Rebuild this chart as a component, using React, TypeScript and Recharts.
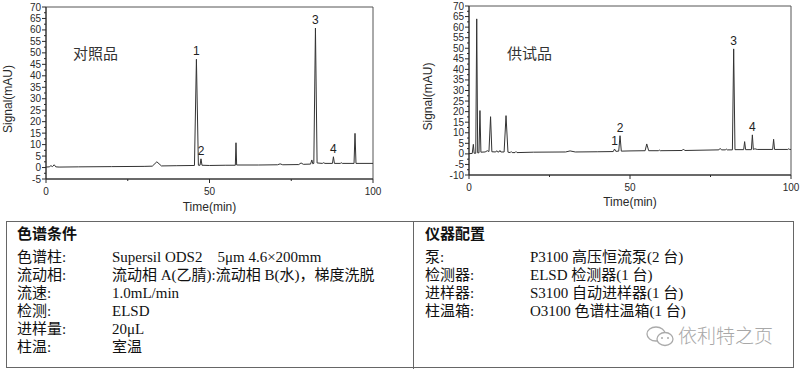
import React from 'react';
import { LineChart, Line, XAxis, YAxis, ReferenceArea, ReferenceDot } from 'recharts';

// ---- 对照品 (reference standard) chromatogram ----
const refTime = [0, 1.0, 1.5, 2.0, 2.5, 3.0, 4.0, 10, 20, 30, 32.5, 33.9, 35.3, 40, 45.4, 46.0, 46.6, 47.1, 47.4, 47.7, 50, 55, 57.9, 58.1, 58.3, 65, 70.8, 71.6, 72.4, 77.3, 78.0, 78.7, 80.9, 81.3, 81.6, 81.9, 82.4, 82.9, 84.5, 84.9, 85.3, 87.6, 87.9, 88.2, 90.0, 90.3, 90.6, 94.2, 94.5, 94.8, 100];
const refSignal = [0.2, 0.3, 0.8, 0.4, 1.2, 0.3, 0.2, 0.3, 0.4, 0.5, 0.6, 2.5, 0.7, 0.8, 0.9, 47.2, 1.0, 1.0, 3.8, 1.0, 0.9, 1.0, 1.0, 10.8, 1.1, 1.1, 1.2, 1.6, 1.2, 1.3, 2.0, 1.4, 1.5, 3.3, 1.6, 1.8, 60.8, 2.0, 1.8, 2.1, 1.8, 1.8, 4.7, 1.8, 1.8, 2.1, 1.8, 1.8, 14.9, 1.8, 1.8];
const refPeakNames = ['1', '2', '3', '4'];
const refPeakTimes = [46.0, 47.4, 82.4, 87.9];
const refPeakTops = [47.2, 3.8, 60.8, 4.7];

// ---- 供试品 (sample) chromatogram ----
const sampleTime = [0, 1.0, 1.35, 1.6, 2.1, 2.4, 2.7, 3.1, 3.4, 3.7, 5.0, 5.7, 6.2, 6.7, 7.1, 8.3, 8.6, 8.9, 9.3, 9.6, 9.9, 10.9, 11.5, 12.1, 12.8, 13.1, 13.4, 14.3, 14.6, 14.9, 20, 30, 31.4, 33, 40, 44.8, 45.2, 45.6, 46.5, 46.9, 47.3, 50, 54.7, 55.2, 55.8, 58.8, 59.1, 59.4, 66.2, 66.6, 67.0, 77.6, 78.0, 78.4, 79.6, 79.9, 80.2, 81.8, 82.2, 82.6, 85.3, 85.6, 85.9, 87.7, 88.0, 88.3, 88.8, 89.5, 94.3, 94.6, 94.9, 99.0, 99.3, 99.6, 100];
const sampleSignal = [0.1, 0.2, 4.5, 0.3, 0.3, 63.9, 0.5, 0.5, 20.5, 0.8, 0.9, 1.5, 1.1, 17.6, 1.0, 0.9, 1.5, 0.9, 0.9, 1.6, 0.9, 0.9, 18.1, 0.8, 0.6, 1.1, 0.6, 0.6, 1.1, 0.6, 0.8, 0.9, 1.4, 0.9, 1.0, 1.1, 2.3, 1.2, 1.3, 8.6, 1.3, 1.4, 1.5, 4.7, 1.5, 1.5, 1.8, 1.5, 1.6, 2.3, 1.6, 1.9, 2.6, 1.9, 1.9, 2.3, 1.9, 1.9, 49.7, 2.0, 2.0, 5.8, 2.0, 2.0, 9.0, 2.1, 2.4, 2.1, 2.1, 6.9, 2.1, 2.1, 2.4, 2.1, 2.1];
const samplePeakNames = ['1', '2', '3', '4'];
const samplePeakTimes = [45.2, 46.9, 82.2, 88.0];
const samplePeakTops = [2.3, 8.6, 49.7, 9.0];

// ---- axes ----
const xTicks = [0, 25, 50, 75, 100];
const xTickLabels = ['0', '', '50', '', '100'];
const refYTicks = [-5, -2.5, 0, 2.5, 5, 7.5, 10, 12.5, 15, 17.5, 20, 22.5, 25, 27.5, 30, 32.5, 35, 37.5, 40, 42.5, 45, 47.5, 50, 52.5, 55, 57.5, 60, 62.5, 65, 67.5, 70];
const sampleYTicks = [-10, -7.5, -5, -2.5, 0, 2.5, 5, 7.5, 10, 12.5, 15, 17.5, 20, 22.5, 25, 27.5, 30, 32.5, 35, 37.5, 40, 42.5, 45, 47.5, 50, 52.5, 55, 57.5, 60, 62.5, 65, 67.5, 70];

// ---- table ----
const condTitle = '色谱条件';
const condLabels = ['色谱柱:', '流动相:', '流速:', '检测:', '进样量:', '柱温:'];
const condValues = ['Supersil ODS2\u00a0\u00a0\u00a0\u00a05μm 4.6×200mm', '流动相 A(乙腈):流动相 B(水)，梯度洗脱', '1.0mL/min', 'ELSD', '20μL', '室温'];
const instTitle = '仪器配置';
const instLabels = ['泵:', '检测器:', '进样器:', '柱温箱:'];
const instValues = ['P3100 高压恒流泵(2 台)', 'ELSD 检测器(1 台)', 'S3100 自动进样器(1 台)', 'O3100 色谱柱温箱(1 台)'];

const SANS = '"Liberation Sans", Arial, "Noto Sans CJK SC", sans-serif';
const SERIF = '"Liberation Serif", "Times New Roman", "Noto Sans CJK SC", serif';
const INK = '#2a2a2a';

const zip = (ts: number[], vs: number[]) => ts.map((t, i) => ({ t, v: vs[i] }));
const refData = zip(refTime, refSignal);
const sampleData = zip(sampleTime, sampleSignal);

const YTick = (props: any) => {
  const { x, y, payload } = props;
  const v = payload.value as number;
  const major = Math.abs(v % 5) < 1e-9;
  return (
    <g>
      <line x1={x - (major ? 4 : 2)} x2={x} y1={y} y2={y} stroke={INK} strokeWidth={1} />
      {major && (
        <text x={x - 5} y={y + 3.5} textAnchor="end" fontSize={10} fill={INK} fontFamily={SANS}>
          {String(v)}
        </text>
      )}
    </g>
  );
};

const makeXTick = (dy: number) => (props: any) => {
  const { x, y, index } = props;
  const label = xTickLabels[index] ?? '';
  const major = label !== '';
  return (
    <g>
      <line x1={x} x2={x} y1={y} y2={y + (major ? 4 : 2)} stroke={INK} strokeWidth={1} />
      {major && (
        <text x={x} y={y + dy} textAnchor="middle" fontSize={10} fill={INK} fontFamily={SANS}>
          {label}
        </text>
      )}
    </g>
  );
};

const makeYTitle = (back: number, down: number) => (props: any) => {
  const vb = props.viewBox || {};
  const cx = vb.x + vb.width - back;
  const cy = vb.y + vb.height / 2 + down;
  return (
    <text x={cx} y={cy} transform={`rotate(-90 ${cx} ${cy})`} textAnchor="middle" dominantBaseline="central" fontSize={12} fill={INK} fontFamily={SANS}>
      Signal(mAU)
    </text>
  );
};

const makeXTitle = (dy: number) => (props: any) => {
  const vb = props.viewBox || {};
  const cx = vb.x + vb.width / 2;
  return (
    <text x={cx} y={vb.y + dy} textAnchor="middle" dominantBaseline="central" fontSize={12} fill={INK} fontFamily={SANS}>
      Time(min)
    </text>
  );
};

type ChromProps = {
  data: { t: number; v: number }[];
  width: number;
  height: number;
  margin: { top: number; right: number; bottom: number; left: number };
  yAxisWidth: number;
  xAxisHeight: number;
  yMin: number;
  yTicks: number[];
  names: string[];
  times: number[];
  tops: number[];
  xLabelDy: number;
  xTitleDy: number;
  yTitleBack: number;
};

const Chromatogram = (p: ChromProps) => (
  <LineChart width={p.width} height={p.height} data={p.data} margin={p.margin}>
    <XAxis
      dataKey="t"
      type="number"
      domain={[0, 100]}
      ticks={xTicks}
      interval={0}
      tickSize={0}
      tickMargin={0}
      tickLine={false}
      height={p.xAxisHeight}
      axisLine={{ stroke: INK }}
      tick={makeXTick(p.xLabelDy)}
      label={makeXTitle(p.xTitleDy)}
    />
    <YAxis
      dataKey="v"
      type="number"
      domain={[p.yMin, 70]}
      ticks={p.yTicks}
      interval={0}
      tickSize={0}
      tickMargin={0}
      tickLine={false}
      width={p.yAxisWidth}
      axisLine={{ stroke: INK }}
      tick={YTick}
      allowDataOverflow
      label={makeYTitle(p.yTitleBack, 6)}
    />
    <ReferenceArea x1={0} x2={100} y1={p.yMin} y2={70} fill="none" stroke="#555" strokeWidth={1} ifOverflow="visible" />
    <Line type="linear" dataKey="v" stroke="#333" strokeWidth={1} dot={false} isAnimationActive={false} />
    {p.names.map((n, i) => (
      <ReferenceDot
        key={n}
        x={p.times[i]}
        y={p.tops[i]}
        r={0}
        fill="none"
        stroke="none"
        ifOverflow="visible"
        label={{ value: n, position: 'top', offset: 4, fontSize: 12, fill: '#222', fontFamily: SANS }}
      />
    ))}
  </LineChart>
);

const rowTop = (center: number) => center - 9;

export default function App() {
  const condRows = [257, 275, 293, 311, 329, 347];
  return (
    <div style={{ position: 'absolute', left: 0, top: 0, width: 800, height: 373, background: '#fff', overflow: 'hidden', fontFamily: SANS }}>
      <div style={{ position: 'absolute', left: 0, top: 0 }}>
        <Chromatogram
          data={refData}
          width={400}
          height={219}
          margin={{ top: 7, right: 27, bottom: 7, left: 0 }}
          yAxisWidth={46}
          xAxisHeight={33}
          yMin={-5}
          yTicks={refYTicks}
          names={refPeakNames}
          times={refPeakTimes}
          tops={refPeakTops}
          xLabelDy={16}
          xTitleDy={28}
          yTitleBack={38}
        />
      </div>
      <div style={{ position: 'absolute', left: 400, top: 0 }}>
        <Chromatogram
          data={sampleData}
          width={400}
          height={213}
          margin={{ top: 6, right: 9, bottom: 7, left: 0 }}
          yAxisWidth={69}
          xAxisHeight={31}
          yMin={-10}
          yTicks={sampleYTicks}
          names={samplePeakNames}
          times={samplePeakTimes}
          tops={samplePeakTops}
          xLabelDy={15.5}
          xTitleDy={27}
          yTitleBack={41}
        />
      </div>
      <div style={{ position: 'absolute', left: 73, top: 43, fontSize: 15, color: '#333', fontFamily: '"Noto Sans CJK SC", sans-serif', lineHeight: '20px' }}>对照品</div>
      <div style={{ position: 'absolute', left: 507, top: 43, fontSize: 15, color: '#333', fontFamily: '"Noto Sans CJK SC", sans-serif', lineHeight: '20px' }}>供试品</div>

      {/* table */}
      <div style={{ position: 'absolute', left: 6, top: 221, width: 786, height: 145, border: '1.5px solid #666' }} />
      <div style={{ position: 'absolute', left: 413, top: 221, width: 0, height: 148, borderLeft: '1.5px solid #666' }} />
      <div style={{ position: 'absolute', left: 17, top: rowTop(234), fontSize: 15, lineHeight: '18px', fontWeight: 'bold', color: '#111', fontFamily: SERIF }}>{condTitle}</div>
      {condLabels.map((l, i) => (
        <React.Fragment key={l}>
          <div style={{ position: 'absolute', left: 17, top: rowTop(condRows[i]), fontSize: 15, lineHeight: '18px', color: '#111', fontFamily: SERIF, whiteSpace: 'nowrap' }}>{l}</div>
          <div style={{ position: 'absolute', left: 112, top: rowTop(condRows[i]), fontSize: 15, lineHeight: '18px', color: '#111', fontFamily: SERIF, whiteSpace: 'nowrap' }}>{condValues[i]}</div>
        </React.Fragment>
      ))}
      <div style={{ position: 'absolute', left: 425, top: rowTop(234), fontSize: 15, lineHeight: '18px', fontWeight: 'bold', color: '#111', fontFamily: SERIF }}>{instTitle}</div>
      {instLabels.map((l, i) => (
        <React.Fragment key={l}>
          <div style={{ position: 'absolute', left: 425, top: rowTop(condRows[i]), fontSize: 15, lineHeight: '18px', color: '#111', fontFamily: SERIF, whiteSpace: 'nowrap' }}>{l}</div>
          <div style={{ position: 'absolute', left: 530, top: rowTop(condRows[i]), fontSize: 15, lineHeight: '18px', color: '#111', fontFamily: SERIF, whiteSpace: 'nowrap' }}>{instValues[i]}</div>
        </React.Fragment>
      ))}
      {/* watermark */}
      <svg style={{ position: 'absolute', left: 645, top: 324 }} width={32} height={24}>
        <ellipse cx={11} cy={10} rx={9} ry={7} fill="none" stroke="#aaa" strokeWidth={1.3} />
        <ellipse cx={20} cy={15} rx={8} ry={6.5} fill="#fff" stroke="#aaa" strokeWidth={1.3} />
        <circle cx={17} cy={14} r={1} fill="#aaa" />
        <circle cx={23} cy={14} r={1} fill="#aaa" />
      </svg>
      <div style={{ position: 'absolute', left: 678, top: 324, fontSize: 19, lineHeight: '22px', color: '#a8a8a8', fontFamily: '"Noto Sans CJK SC", sans-serif', fontWeight: 300 }}>依利特之页</div>
    </div>
  );
}
